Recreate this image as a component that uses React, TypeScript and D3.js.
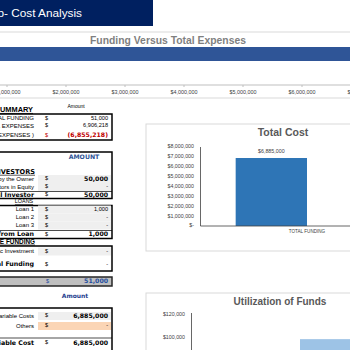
import React from 'react';
import * as d3 from 'd3';

// top chart: funding vs total expenses
const fundingTicks = [1000000, 2000000, 3000000, 4000000, 5000000, 6000000, 7000000];
const expensesValue = 6906218;

// total cost chart
const costCategories = ['TOTAL FUNDING'];
const costValues = [6885000];
const costTicks = [0, 1000000, 2000000, 3000000, 4000000, 5000000, 6000000, 7000000, 8000000];

// utilization chart
const utilTicks = [100000, 120000];
const utilValues = [99000];

// tables
const summaryRows = [
  { label: 'TOTAL FUNDING', value: '51,000' },
  { label: 'TOTAL EXPENSES', value: '6,906,218' },
];
const summaryBalance = { label: '(FUNDING - EXPENSES )', value: '(6,855,218)' };
const investorRows = [
  { label: 'Investment by the Owner', value: '50,000' },
  { label: 'Investors in Equity', value: '-' },
];
const investorTotal = { label: 'Total Investor', value: '50,000' };
const loanRows = [
  { label: 'Loan 1', value: '1,000' },
  { label: 'Loan 2', value: '-' },
  { label: 'Loan 3', value: '-' },
];
const loanTotal = { label: 'Total Funding from Loan', value: '1,000' };
const otherRows = [{ label: 'Strategic Investment', value: '-' }];
const otherTotal = { label: 'Total Funding', value: '-' };
const grandTotal = '51,000';
const costRows = [
  { label: 'Variable Costs', value: '6,885,000' },
  { label: 'Others', value: '-' },
];
const costTotal = { label: 'Total Variable Cost', value: '6,885,000' };

const money = (v: number) => (v === 0 ? '$-' : '$' + d3.format(',')(v));
const sans = 'Liberation Sans, Arial, sans-serif';
const bold = 'DejaVu Sans, sans-serif';

const Row = ({ y, label, value, lb = false, vb = false, color = '#000', vcolor = '', shade = '' }: any) => (
  <g>
    {shade && <rect x={38} y={y - 4} width={73} height={8} fill={shade} />}
    <text x={34} y={y} textAnchor="end" dominantBaseline="middle" fontSize={lb ? 6.3 : 6}
      fontFamily={lb ? bold : sans} fontWeight={lb ? 'bold' : 'normal'} fill={color}>{label}</text>
    <text x={45} y={y} dominantBaseline="middle" fontSize={5.6} fontFamily={sans} fill={vcolor || color}>$</text>
    <text x={108} y={y} textAnchor="end" dominantBaseline="middle" fontSize={vb ? 6.2 : 5.6}
      fontFamily={vb ? bold : sans} fontWeight={vb ? 'bold' : 'normal'} fill={vcolor || color}>{value}</text>
  </g>
);

const App = () => {
  const x = d3.scaleLinear().domain([0, 7000000]).range([-52, 361]);
  const yCost = d3.scaleLinear().domain([0, 8000000]).range([226, 147]);
  const xCost = d3.scaleBand().domain(costCategories).range([200, 414]).paddingInner(0.2).paddingOuter(0.2);
  const yUtil = d3.scaleLinear().domain([0, 120000]).range([453, 315]);

  const bw = xCost.bandwidth() / 2;

  return (
    <svg width={350} height={350} style={{ position: 'absolute', left: 0, top: 0, background: '#fff' }}>
      {/* banner */}
      <rect x={0} y={0} width={153} height={26} fill="#002060" />
      <text x={82} y={14} textAnchor="end" dominantBaseline="middle" fontSize={11.8} fontFamily={sans} fill="#fff">Startup- Cost Analysis</text>

      {/* funding vs expenses chart */}
      <rect x={-5} y={32} width={360} height={66} fill="#fff" stroke="#d9d9d9" />
      <text x={168} y={41} textAnchor="middle" dominantBaseline="middle" fontSize={10} fontWeight="bold"
        fontFamily={sans} fill="#7f7f7f" textLength={156} lengthAdjust="spacingAndGlyphs">Funding Versus Total Expenses</text>
      <rect x={x(0)} y={47} width={x(expensesValue) - x(0)} height={14} fill="#2f5597" />
      <line x1={0} x2={350} y1={85} y2={85} stroke="#bfbfbf" />
      {fundingTicks.map(t => (
        <g key={t}>
          <line x1={x(t)} x2={x(t)} y1={85} y2={87} stroke="#bfbfbf" />
          <text x={x(t)} y={92.5} textAnchor="middle" dominantBaseline="middle" fontSize={5.4} fontFamily={sans} fill="#404040">{money(t)}</text>
        </g>
      ))}

      {/* summary table */}
      <text x={33} y={110} textAnchor="end" dominantBaseline="middle" fontSize={7.4} fontWeight="bold" fontFamily={sans} textDecoration="underline">SUMMARY</text>
      <text x={76} y={107} textAnchor="middle" dominantBaseline="middle" fontSize={5} fontFamily={sans}>Amount</text>
      <rect x={-2} y={114} width={114} height={26} fill="none" stroke="#000" strokeWidth={1.5} />
      {summaryRows.map((r, i) => <Row key={r.label} y={118.5 + i * 7.5} label={r.label} value={r.value} />)}
      <Row y={135.5} label={summaryBalance.label} value={summaryBalance.value} vb vcolor="#c00000" />

      {/* funding table */}
      <rect x={-2} y={152} width={114} height={46.5} fill="none" stroke="#000" strokeWidth={1.5} />
      <text x={84} y={157} textAnchor="middle" dominantBaseline="middle" fontSize={6.2} fontWeight="bold" fontFamily={bold} fill="#2f5597">AMOUNT</text>
      <text x={35} y={172} textAnchor="end" dominantBaseline="middle" fontSize={6.6} fontWeight="bold" fontFamily={bold} textDecoration="underline">INVESTORS</text>
      {investorRows.map((r, i) => <Row key={r.label} y={179 + i * 8} label={r.label} value={r.value} vb={i === 0} shade="#efefef" />)}
      <line x1={0} x2={112} y1={191.5} y2={191.5} stroke="#000" strokeWidth={0.7} />
      <Row y={195} label={investorTotal.label} value={investorTotal.value} lb vb />

      <text x={24} y={202} textAnchor="middle" dominantBaseline="middle" fontSize={5.4} fontFamily={sans} textDecoration="underline">LOANS</text>
      <rect x={-2} y={205.5} width={114} height={33} fill="none" stroke="#000" strokeWidth={1.5} />
      {loanRows.map((r, i) => <Row key={r.label} y={209.5 + i * 8} label={r.label} value={r.value} shade="#efefef" />)}
      <line x1={0} x2={112} y1={230.5} y2={230.5} stroke="#000" strokeWidth={0.7} />
      <Row y={234.5} label={loanTotal.label} value={loanTotal.value} lb vb />

      <text x={35} y={242} textAnchor="end" dominantBaseline="middle" fontSize={6.4} fontWeight="bold" fontFamily={sans} textDecoration="underline">OTHER SOURCE FUNDING</text>
      <rect x={-2} y={246} width={114} height={25} fill="none" stroke="#000" strokeWidth={1.5} />
      {otherRows.map(r => <Row key={r.label} y={251.5} label={r.label} value={r.value} shade="#efefef" />)}
      <Row y={264.5} label={otherTotal.label} value={otherTotal.value} lb />

      <rect x={-2} y={277} width={114} height={9} fill="#bfbfbf" stroke="#262626" strokeWidth={1.5} />
      <text x={46} y={281.5} dominantBaseline="middle" fontSize={5.6} fontFamily={sans} fill="#1f4ea0">$</text>
      <text x={108} y={281.5} textAnchor="end" dominantBaseline="middle" fontSize={6.2} fontWeight="bold" fontFamily={bold} fill="#1f4ea0">{grandTotal}</text>

      {/* cost table */}
      <text x={75} y={296} textAnchor="middle" dominantBaseline="middle" fontSize={6} fontWeight="bold" fontFamily={bold} fill="#1f3f8f">Amount</text>
      <rect x={-2} y={308} width={114} height={60} fill="none" stroke="#000" strokeWidth={1.5} />
      <Row y={316} label={costRows[0].label} value={costRows[0].value} vb shade="#efefef" />
      <Row y={326} label={costRows[1].label} value={costRows[1].value} shade="#fbd5b5" />
      <line x1={0} x2={112} y1={338} y2={338} stroke="#000" strokeWidth={0.7} />
      <Row y={343} label={costTotal.label} value={costTotal.value} lb vb />

      {/* total cost chart */}
      <rect x={146} y={124} width={210} height={127} fill="#fff" stroke="#d9d9d9" />
      <text x={283} y={133} textAnchor="middle" dominantBaseline="middle" fontSize={10.5} fontWeight="bold" fontFamily={sans} fill="#595959">Total Cost</text>
      {costTicks.map(t => (
        <text key={t} x={194} y={yCost(t)} textAnchor="end" dominantBaseline="middle" fontSize={5.3} fontFamily={sans} fill="#404040">{money(t)}</text>
      ))}
      {costCategories.map((c, i) => (
        <g key={c}>
          <rect x={(xCost(c) as number)} y={yCost(costValues[i])} width={bw} height={yCost(0) - yCost(costValues[i])} fill="#2e75b6" />
          <text x={(xCost(c) as number) + bw / 2} y={yCost(costValues[i]) - 6} textAnchor="middle" dominantBaseline="middle" fontSize={5.3} fontFamily={sans} fill="#404040">{money(costValues[i])}</text>
          <text x={(xCost(c) as number) + bw} y={232} textAnchor="middle" dominantBaseline="middle" fontSize={4.6} fontFamily={sans} fill="#404040">{c}</text>
        </g>
      ))}
      <line x1={200.5} x2={200.5} y1={yCost(8000000)} y2={yCost(0)} stroke="#404040" strokeWidth={0.8} />
      <line x1={200.5} x2={350} y1={yCost(0)} y2={yCost(0)} stroke="#404040" strokeWidth={0.8} />

      {/* utilization chart */}
      <rect x={146} y={293} width={210} height={70} fill="#fff" stroke="#d9d9d9" />
      <text x={280} y={302} textAnchor="middle" dominantBaseline="middle" fontSize={10} fontWeight="bold" fontFamily={sans} fill="#595959">Utilization of Funds</text>
      {utilTicks.map(t => (
        <text key={t} x={185} y={yUtil(t)} textAnchor="end" dominantBaseline="middle" fontSize={5.3} fontFamily={sans} fill="#404040">{money(t)}</text>
      ))}
      {utilValues.map(v => (
        <rect key={v} x={300} y={yUtil(v)} width={60} height={yUtil(0) - yUtil(v)} fill="#9dc3e6" />
      ))}
      <line x1={191.5} x2={191.5} y1={yUtil(120000) - 2} y2={350} stroke="#404040" strokeWidth={0.8} />
    </svg>
  );
};

export default App;
